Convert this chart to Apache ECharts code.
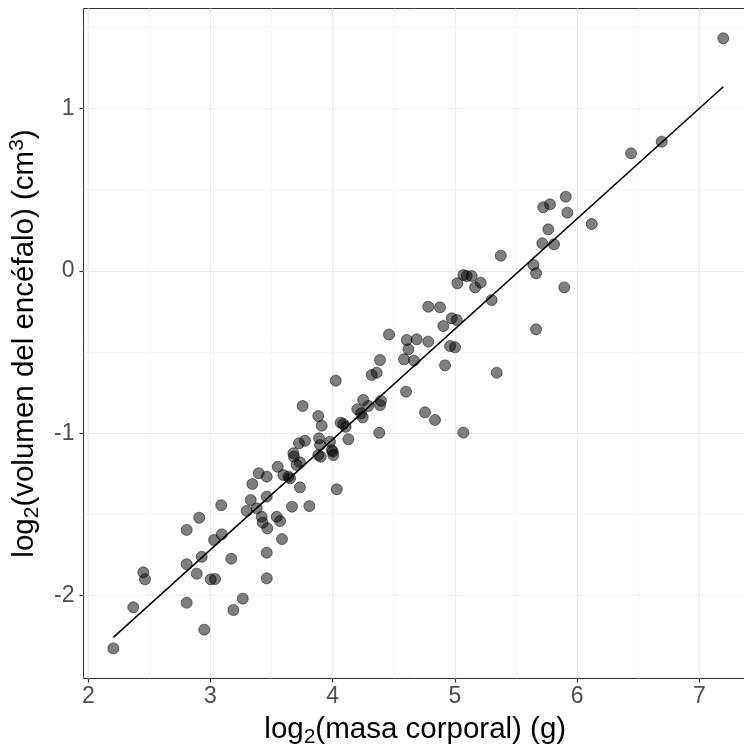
<!DOCTYPE html>
<html>
<head>
<meta charset="utf-8">
<script src="https://cdn.jsdelivr.net/npm/echarts@6/dist/echarts.min.js"></script>
<style>
  html, body { margin: 0; padding: 0; background: #fff; }
  #chart { width: 744px; height: 745px; }
</style>
</head>
<body>
<div id="chart"></div>
<script>
// log2 masa corporal (g)
const masaCorporal = [
  2.205, 2.368, 2.450, 2.464, 2.805, 2.908, 2.805, 2.887, 2.805, 2.949,
  2.928, 3.002, 3.037, 3.029, 3.092, 3.088, 3.170, 3.264, 3.187, 3.342,
  3.329, 3.296, 3.378, 3.460, 3.419, 3.427, 3.465, 3.542, 3.569, 3.585,
  3.667, 3.460, 3.460, 3.394, 3.460, 3.550, 3.596, 3.637, 3.651, 3.678,
  3.683, 3.705, 3.732, 3.724, 3.773, 3.754, 3.732, 3.809, 4.033, 3.882,
  3.910, 3.888, 3.896, 3.902, 3.882, 3.978, 3.992, 4.005, 4.000, 4.025,
  4.065, 4.087, 4.106, 4.128, 4.201, 4.232, 4.245, 4.250, 4.291, 4.387,
  4.395, 4.381, 4.319, 4.360, 4.387, 4.461, 4.600, 4.606, 4.687, 4.782,
  4.619, 4.583, 4.665, 4.782, 4.878, 4.905, 4.974, 5.015, 4.919, 4.755,
  4.837, 4.960, 5.001, 5.069, 5.342, 5.069, 5.097, 5.137, 5.020, 5.165,
  5.211, 5.301, 5.375, 5.642, 5.664, 5.664, 5.895, 5.715, 5.811, 5.764,
  5.723, 5.778, 5.907, 5.920, 6.119, 6.441, 6.692, 7.196
];
// log2 volumen del encéfalo (cm3)
const volumenEncefalo = [
  -2.324, -2.071, -1.856, -1.899, -1.595, -1.520, -1.806, -1.864, -2.043, -2.209,
  -1.760, -1.899, -1.897, -1.657, -1.622, -1.443, -1.772, -2.018, -2.088, -1.312,
  -1.411, -1.478, -1.462, -1.390, -1.514, -1.550, -1.585, -1.514, -1.540, -1.651,
  -1.452, -1.735, -1.893, -1.246, -1.267, -1.206, -1.257, -1.267, -1.277, -1.123,
  -1.144, -1.195, -1.179, -1.062, -1.046, -0.832, -1.333, -1.448, -1.345, -0.894,
  -0.953, -1.031, -1.072, -1.144, -1.134, -1.052, -1.103, -1.134, -1.113, -0.676,
  -0.935, -0.943, -0.960, -1.037, -0.852, -0.877, -0.902, -0.795, -0.832, -0.826,
  -0.800, -0.997, -0.641, -0.627, -0.549, -0.392, -0.744, -0.426, -0.422, -0.436,
  -0.483, -0.545, -0.553, -0.221, -0.225, -0.340, -0.292, -0.303, -0.582, -0.871,
  -0.918, -0.463, -0.471, -0.996, -0.627, -0.026, -0.032, -0.032, -0.077, -0.102,
  -0.073, -0.180, 0.093, 0.036, -0.015, -0.360, -0.102, 0.169, 0.163, 0.255,
  0.391, 0.409, 0.456, 0.358, 0.288, 0.723, 0.795, 1.431
];
// recta ajustada (extremos)
const ajusteX = [2.205, 7.196];
const ajusteY = [-2.256, 1.133];

// ticks
const xTicks = [2, 3, 4, 5, 6, 7];
const xMinor = [2.5, 3.5, 4.5, 5.5, 6.5];
const yTicks = [-2, -1, 0, 1];
const yMinor = [-2.5, -1.5, -0.5, 0.5, 1.5];

const X_MIN = 1.9607, X_MAX = 7.390;
const Y_MIN = -2.5094, Y_MAX = 1.6145;

const FONT = "'Liberation Sans', Arial, Helvetica, sans-serif";

const puntos = masaCorporal.map((x, i) => [x, volumenEncefalo[i]]);
const recta = ajusteX.map((x, i) => [x, ajusteY[i]]);

const titleRich = {
  base: { fontSize: 29.5, fontFamily: FONT, color: '#000', lineHeight: 36 },
  sub: { fontSize: 21, fontFamily: FONT, color: '#000', lineHeight: 20, verticalAlign: 'bottom' },
  sup: { fontSize: 21, fontFamily: FONT, color: '#000', lineHeight: 20, verticalAlign: 'top' }
};

const majorLine = { show: true, lineStyle: { color: '#ebebeb', width: 1.2 } };
const minorLine = { show: true, lineStyle: { color: '#f3f3f3', width: 0.8 } };
const tickStyle = { color: '#333333', width: 1.2 };

const chart = echarts.init(document.getElementById('chart'), null, { renderer: 'canvas' });

chart.setOption({
  animation: false,
  backgroundColor: '#fff',
  grid: {
    // bordes en medio píxel para que la línea salga nítida
    left: 83.5, top: 8.5, right: -3, bottom: 66.5,
    show: true,
    backgroundColor: '#fff',
    borderColor: '#333333',
    borderWidth: 1,
    containLabel: false,
    outerBoundsMode: 'none'
  },
  xAxis: [
    {
      type: 'value', min: X_MIN, max: X_MAX,
      axisLine: { show: false, onZero: false },
      axisTick: { show: true, length: 4, customValues: xTicks, lineStyle: tickStyle },
      axisLabel: { customValues: xTicks, margin: 7, fontSize: 23, fontFamily: FONT, color: '#4d4d4d' },
      splitLine: majorLine,
      name: '{base|log}{sub|2}{base|(masa corporal) (g)}',
      nameLocation: 'middle',
      nameGap: 33,
      nameTextStyle: { rich: titleRich }
    },
    {
      // rejilla menor
      type: 'value', min: X_MIN, max: X_MAX, position: 'top',
      axisLine: { show: false, onZero: false },
      axisTick: { show: false, customValues: xMinor },
      axisLabel: { show: false },
      splitLine: minorLine,
      z: 0
    }
  ],
  yAxis: [
    {
      type: 'value', min: Y_MIN, max: Y_MAX,
      axisLine: { show: false, onZero: false },
      axisTick: { show: true, length: 4, customValues: yTicks, lineStyle: tickStyle },
      axisLabel: { customValues: yTicks, margin: 9, fontSize: 23, fontFamily: FONT, color: '#4d4d4d' },
      splitLine: majorLine,
      name: '{base|log}{sub|2}{base|(volumen del encéfalo) (cm}{sup|3}{base|)}',
      nameLocation: 'middle',
      nameGap: 40,
      nameTextStyle: { rich: titleRich }
    },
    {
      type: 'value', min: Y_MIN, max: Y_MAX, position: 'right',
      axisLine: { show: false, onZero: false },
      axisTick: { show: false, customValues: yMinor },
      axisLabel: { show: false },
      splitLine: minorLine,
      z: 0
    }
  ],
  series: [
    {
      type: 'scatter',
      data: puntos,
      symbol: 'circle',
      symbolSize: 11,
      itemStyle: {
        color: 'rgba(0,0,0,0.5)',
        borderColor: 'rgba(0,0,0,0.5)',
        borderWidth: 1,
        opacity: 1
      },
      emphasis: { disabled: true },
      z: 3
    },
    {
      type: 'line',
      data: recta,
      symbol: 'none',
      lineStyle: { color: '#000', width: 1.6 },
      emphasis: { disabled: true },
      z: 4
    }
  ]
});
</script>
</body>
</html>
